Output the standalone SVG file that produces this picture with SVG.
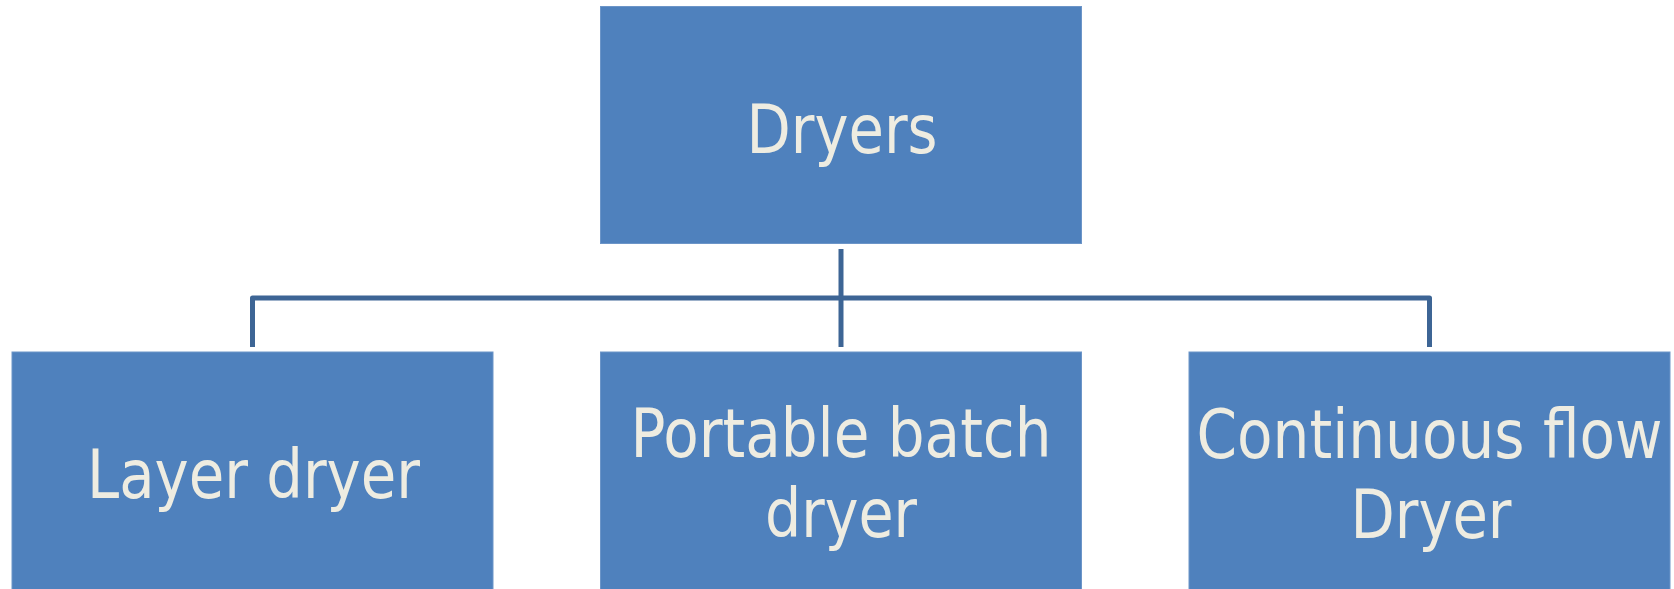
<svg xmlns="http://www.w3.org/2000/svg" width="1674" height="589" viewBox="0 0 1674 589">
<style>
.box{fill:#4F81BD;stroke:#6C95C8;stroke-width:1}
.lbl{fill:#EEECE1;font-family:"DejaVu Sans Condensed","DejaVu Sans",sans-serif;font-size:68px;text-anchor:middle}
.conn{fill:none;stroke:#3D6595;stroke-width:5;stroke-linejoin:round}
</style>
<rect width="1674" height="589" fill="#FFFFFF"/>
<g id="connectors">
<path class="conn" d="M841,249 V347"/>
<path class="conn" d="M252.5,347 V298 H1429.5 V347"/>
</g>
<g id="node-dryers">
<rect class="box" x="600.5" y="6.5" width="481" height="237"/>
<text class="lbl" x="842" y="153" textLength="191" lengthAdjust="spacingAndGlyphs">Dryers</text>
</g>
<g id="node-layer">
<rect class="box" x="12" y="352" width="481" height="240"/>
<text class="lbl" x="253.5" y="498" textLength="333" lengthAdjust="spacingAndGlyphs">Layer dryer</text>
</g>
<g id="node-portable">
<rect class="box" x="600.5" y="352" width="481" height="240"/>
<text class="lbl" x="841" y="457" textLength="421" lengthAdjust="spacingAndGlyphs">Portable batch</text>
<text class="lbl" x="841" y="537" textLength="152" lengthAdjust="spacingAndGlyphs">dryer</text>
</g>
<g id="node-continuous">
<rect class="box" x="1189" y="352" width="481" height="240"/>
<text class="lbl" x="1429.5" y="457.5" textLength="466" lengthAdjust="spacingAndGlyphs">Continuous flow</text>
<text class="lbl" x="1431" y="538" textLength="161" lengthAdjust="spacingAndGlyphs">Dryer</text>
</g>
</svg>
